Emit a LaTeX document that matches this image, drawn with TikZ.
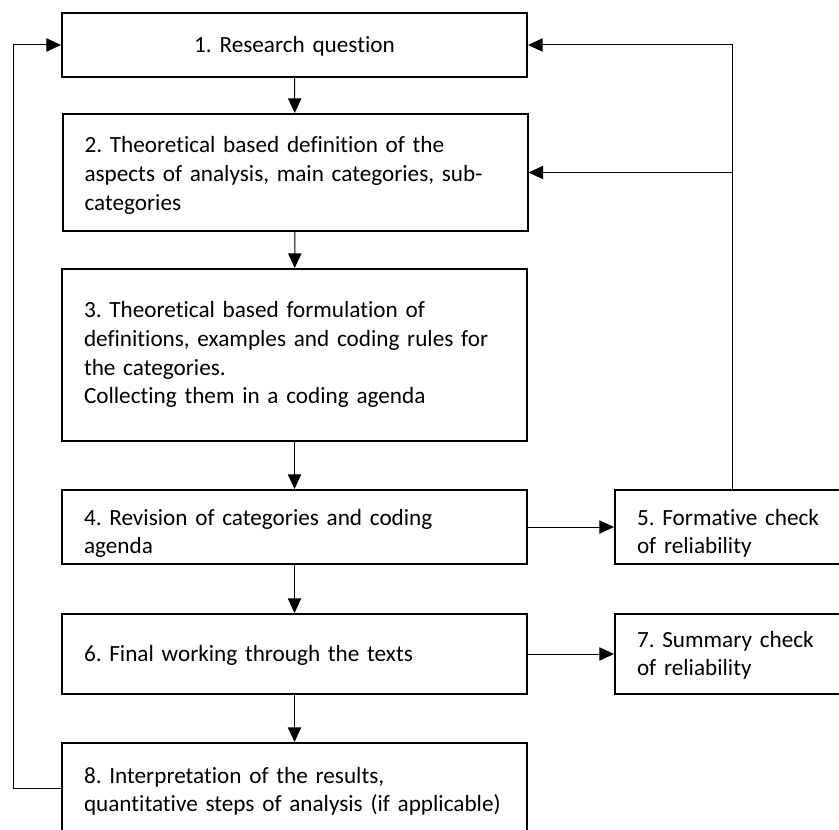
\documentclass[tikz,border=0pt]{standalone}
\usepackage{fontspec}
\setmainfont{Carlito}[Ligatures=NoCommon]
\usetikzlibrary{arrows.meta}
\frenchspacing

\begin{document}
        \begin{tikzpicture}[x=0.75pt,y=-0.75pt,
            stepbox/.style={draw,line width=1.5pt,inner xsep=16.5pt,inner ysep=0pt,
                text width=315.75pt,align=left,
                font=\fontsize{17.4}{21.4}\selectfont},
            checkbox/.style={stepbox,text width=142.5pt},
            flow/.style={line width=0.75pt,-{Triangle[length=11pt,width=10pt]}}]
            \useasboundingbox (0,0) rectangle (839,830);
            \node[stepbox,align=center,text height=30pt,text depth=18pt] (question) at (294.5,45) {1. Research question};
            \node[stepbox,text height=29.25pt,text depth=58.5pt] (aspects) at (295,172.5) {2. Theoretical based definition of the\\aspects of analysis, main categories, sub-\\categories};
            \node[stepbox,text height=36.75pt,text depth=92.25pt] (rules) at (294.5,355) {3. Theoretical based formulation of\\definitions, examples and coding rules for\\the categories.\\Collecting them in a coding agenda};
            \node[stepbox,text height=26.25pt,text depth=29.25pt] (revision) at (294.5,527) {4. Revision of categories and coding\\agenda};
            \node[checkbox,text height=26.25pt,text depth=29.25pt] (formative) at (732,527) {5. Formative check\\of reliability};
            \node[stepbox,text height=35.25pt,text depth=24.75pt] (final) at (294.5,654) {6. Final working through the texts};
            \node[checkbox,text height=24.75pt,text depth=35.25pt] (summary) at (732,654) {7. Summary check\\of reliability};
            \node[stepbox,text height=30pt,text depth=37.5pt] (interp) at (294.5,788) {8. Interpretation of the results,\\\mbox{quantitative steps of analysis (if applicable)}};
            \coordinate (back) at (13,788);
            \draw[flow] (question) -- (aspects);
            \draw[flow] (aspects) -- (rules);
            \draw[flow] (rules) -- (revision);
            \draw[flow] (revision) -- (final);
            \draw[flow] (final) -- (interp);
            \draw[flow] (revision) -- (formative);
            \draw[flow] (final) -- (summary);
            \draw[flow] (formative.north) |- (question.east);
            \draw[flow] (formative.north |- aspects.east) -- (aspects.east);
            \draw[flow] (interp.west) -- (back) |- (question.west);
        \end{tikzpicture}
\end{document}
